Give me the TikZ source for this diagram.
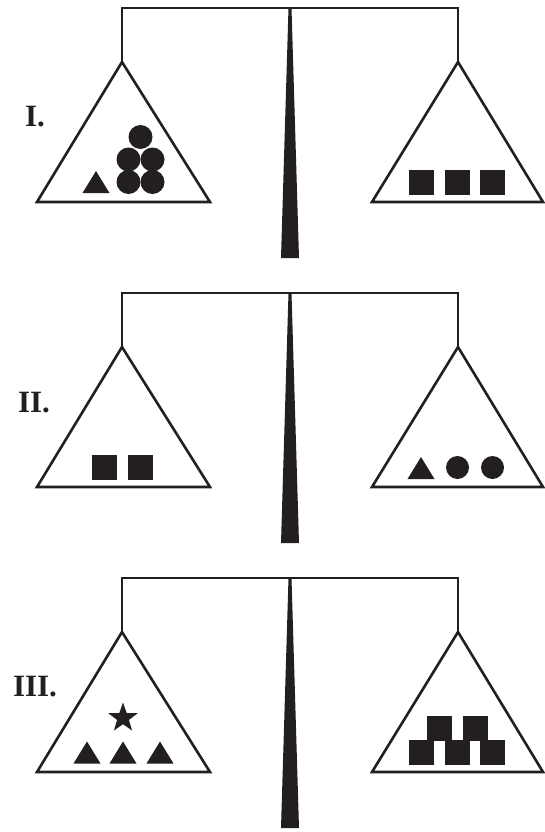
\documentclass[tikz,border=0pt]{standalone}
\usepackage{fontspec}
\setmainfont{Liberation Serif}
\usetikzlibrary{shapes.geometric}
\definecolor{ink}{HTML}{231F20}
\tikzset{
  frame/.style={draw=ink,line width=2.6pt,line join=miter},
  solid ink/.style={fill=ink,draw=none},
  lbl/.style={font=\fontsize{31}{31}\selectfont\bfseries,text=ink,inner sep=0pt,anchor=center},
  starshape/.style={star,star points=5,star point ratio=2.5,fill=ink,draw=none,minimum size=31pt,inner sep=0pt}
}
\newcommand{\Tri}[3]{\fill[solid ink] (#1-13.5,#2) -- (#1+13.5,#2) -- (#1,#2-#3) -- cycle;}
\newcommand{\Sq}[2]{\fill[solid ink] (#1-12.5,#2-12.5) rectangle (#1+12.5,#2+12.5);}
\newcommand{\Balance}{%
  \draw[frame] (122,62) -- (122,8) -- (458,8) -- (458,62);
  \draw[frame] (122,62) -- (37,202) -- (210,202) -- cycle;
  \draw[frame] (458,62) -- (372,202) -- (543,202) -- cycle;
  \fill[solid ink] (288.5,8) -- (291.5,8) -- (299,258) -- (281,258) -- cycle;
}
\begin{document}
\begin{tikzpicture}[x=1pt,y=-1pt]
\useasboundingbox (0,0) rectangle (545,832);
\fill[white] (0,0) rectangle (545,832);
% Panel I
\begin{scope}
  \Balance
  \node[lbl] (labI) at (35,117) {I.};
  \foreach \p in {(140.5,137),(128.5,159.5),(152.5,159.5),(128.5,182),(152.5,182)}
    \fill[solid ink] \p circle (12);
  \Tri{96}{193}{22}
  \Sq{421.5}{182.5}\Sq{457.5}{182.5}\Sq{492.5}{182.5}
\end{scope}
% Panel II
\begin{scope}[shift={(0,285)}]
  \Balance
  \node[lbl] (labII) at (34,118) {II.};
  \Sq{104}{182.5}\Sq{140}{182.5}
  \Tri{421}{194}{22}
  \fill[solid ink] (457.5,182.5) circle (11.5);
  \fill[solid ink] (492.5,182.5) circle (11.5);
\end{scope}
% Panel III
\begin{scope}[shift={(0,570)}]
  \Balance
  \node[lbl] (labIII) at (35,117) {III.};
  \node[starshape] (star) at (123,148) {};
  \Tri{87}{193.5}{22}\Tri{123}{193.5}{22}\Tri{160}{193.5}{22}
  \Sq{421.5}{182}\Sq{457.5}{182}\Sq{492.5}{182}
  \Sq{439.5}{158}\Sq{475}{158}
\end{scope}
\end{tikzpicture}
\end{document}
